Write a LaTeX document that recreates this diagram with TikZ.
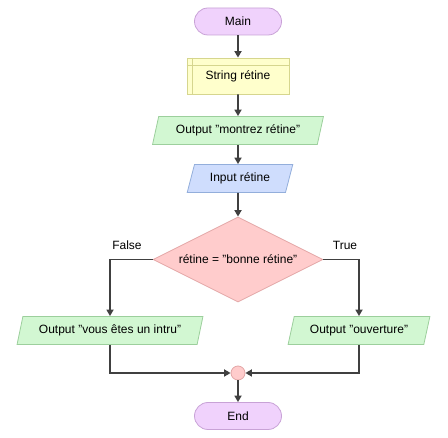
\documentclass[tikz,border=0pt]{standalone}
\usepackage{fontspec}
\setmainfont{Liberation Sans}
\usetikzlibrary{shapes.geometric,shapes.misc,arrows.meta}
\definecolor{termfill}{HTML}{F0D2FC}
\definecolor{termdraw}{HTML}{C8A2D6}
\definecolor{procfill}{HTML}{FFFFCC}
\definecolor{procdraw}{HTML}{D6D68E}
\definecolor{iofill}{HTML}{D2F7D2}
\definecolor{iodraw}{HTML}{9CCF9C}
\definecolor{infill}{HTML}{CFDDFD}
\definecolor{indraw}{HTML}{93AEDB}
\definecolor{decfill}{HTML}{FFCCCC}
\definecolor{decdraw}{HTML}{E3A6A6}
\definecolor{linec}{HTML}{404040}
\begin{document}
\begin{tikzpicture}[x=1pt,y=-1pt,
  every node/.style={font=\fontsize{12}{14}\selectfont, text=black, inner sep=0pt},
  term/.style={rounded rectangle, draw=termdraw, fill=termfill, line width=0.8pt, minimum width=87pt, minimum height=27pt},
  procbox/.style={rectangle, draw=procdraw, fill=procfill, line width=0.8pt, minimum width=102pt, minimum height=36pt},
  iobox/.style={trapezium, trapezium stretches=true, trapezium left angle=67, trapezium right angle=113, draw=iodraw, fill=iofill, line width=0.8pt, minimum height=28pt},
  inbox/.style={iobox, draw=indraw, fill=infill},
  decbox/.style={diamond, aspect=2, draw=decdraw, fill=decfill, line width=0.8pt, minimum width=170pt, minimum height=85pt},
  junc/.style={circle, draw=decdraw, fill=decfill, line width=0.8pt, minimum size=14pt},
  conn/.style={draw=linec, line width=1.7pt, -{Triangle[length=6.5pt,width=7pt]}},
  lbl/.style={font=\fontsize{12}{14}\selectfont}
]
\useasboundingbox (0,0) rectangle (448,438);
\node[term] (main) at (238,21.5) {Main};
\node[procbox] (str) at (238,76) {String rétine};
\draw[procdraw, line width=0.8pt] ([xshift=6pt]str.north west) -- ([xshift=6pt]str.south west);
\draw[procdraw, line width=0.8pt] ([yshift=-8pt]str.north west) -- ([yshift=-8pt]str.north east);
\node[iobox, minimum width=171pt] (out1) at (238,130.5) {Output "montrez rétine"};
\node[inbox, minimum width=106pt] (inp) at (240,178.5) {Input rétine};
\node[decbox] (dec) at (238,259.5) {rétine = "bonne rétine"};
\node[iobox, minimum width=186pt] (outl) at (110,330.5) {Output "vous êtes un intru"};
\node[iobox, minimum width=142pt] (outr) at (359,330.5) {Output "ouverture"};
\node[junc] (j) at (238,373) {};
\node[term] (end) at (238,416) {End};
\node[lbl] (flab) at (127,245) {False};
\node[lbl] (tlab) at (345,245) {True};
\draw[conn] (main.south) -- (str.north);
\draw[conn] (str.south) -- (out1.north);
\draw[conn] (out1.south) -- (out1.south |- inp.north);
\draw[conn] (out1.south |- inp.south) -- (dec.north);
\draw[conn] (dec.west) -| (outl.north);
\draw[conn] (dec.east) -| (outr.north);
\draw[conn] (outl.south) |- (j.west);
\draw[conn] (outr.south) |- (j.east);
\draw[conn] (j.south) -- (end.north);
\end{tikzpicture}
\end{document}
